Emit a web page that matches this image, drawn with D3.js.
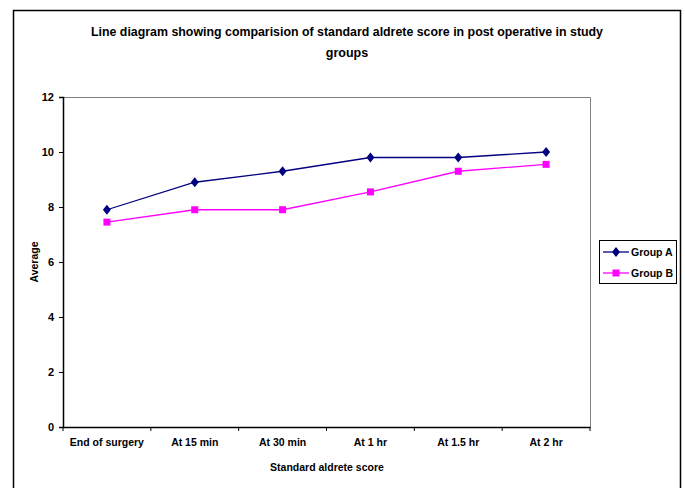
<!DOCTYPE html>
<html><head><meta charset="utf-8">
<script src="https://cdn.jsdelivr.net/npm/d3@7"></script>
<style>body{margin:0;background:#fff}svg{display:block}text{font-family:"Liberation Sans",Arial,sans-serif;font-weight:bold;fill:#000}</style>
</head><body>
<script>
const categories = ["End of surgery","At 15 min","At 30 min","At 1 hr","At 1.5 hr","At 2 hr"];
const groupA = [7.9, 8.9, 9.3, 9.8, 9.8, 10.0];
const groupB = [7.45, 7.9, 7.9, 8.55, 9.3, 9.55];
const yTicks = [0,2,4,6,8,10,12];
const seriesNames = ["Group A","Group B"];
const colors = ["#000080","#FF00FF"];

const W=685,H=488;
const svg=d3.select("body").append("svg").attr("width",W).attr("height",H);
svg.append("rect").attr("x",13.5).attr("y",10.5).attr("width",667).attr("height",500).attr("fill","none").attr("stroke","#000").attr("stroke-width",1.5);

const m={l:63,t:97,r:590,b:427};
const x=d3.scaleBand().domain(categories).range([m.l,m.r]);
const y=d3.scaleLinear().domain([0,12]).range([m.b,m.t]);

// title
const t1=svg.append("text").attr("x",347).attr("y",36).attr("text-anchor","middle").style("font-size","12.5px")
  .text("Line diagram showing comparision of standard aldrete score in post operative in study");
t1.attr("textLength",512).attr("lengthAdjust","spacingAndGlyphs");
svg.append("text").attr("x",347).attr("y",57).attr("text-anchor","middle").style("font-size","12.5px").text("groups");

// plot border gray top/right
svg.append("path").attr("d",`M${m.l},${m.t+0.5}H${m.r+0.5}V${m.b}`).attr("fill","none").attr("stroke","#808080").attr("stroke-width",1);

// y axis
const ya=svg.append("g").attr("transform",`translate(${m.l},0)`).call(d3.axisLeft(y).tickValues(yTicks).tickSize(4).tickPadding(5));
ya.select(".domain").attr("stroke","#000").attr("stroke-width",1.5);
ya.selectAll("text").style("font-size","11px").attr("font-family",null);
// x axis
const xa=svg.append("g").attr("transform",`translate(0,${m.b})`).call(d3.axisBottom(x).tickSize(0).tickPadding(12));
xa.select(".domain").attr("stroke","#000").attr("stroke-width",1.5);
xa.selectAll("text").style("font-size","10.5px").attr("font-family",null);
const bounds=categories.map(c=>x(c)).concat([m.r]);
svg.append("g").selectAll("line").data(bounds).join("line")
  .attr("x1",d=>d).attr("x2",d=>d).attr("y1",m.b).attr("y2",m.b+4).attr("stroke","#000");

svg.append("text").attr("x",327).attr("y",471).attr("text-anchor","middle").style("font-size","10.5px").text("Standard aldrete score");
svg.append("text").attr("transform","translate(38,262) rotate(-90)").attr("text-anchor","middle").style("font-size","10.5px").text("Average");

const cx=c=>x(c)+x.bandwidth()/2;
const line=d3.line().x((d,i)=>cx(categories[i])).y(d=>y(d));
const diamond="M0,-5L4,0L0,5L-4,0Z";
[groupA,groupB].forEach((s,k)=>{
  svg.append("path").datum(s).attr("d",line).attr("fill","none").attr("stroke",colors[k]).attr("stroke-width",1.3);
  const g=svg.append("g");
  s.forEach((v,i)=>{
    if(k===0) g.append("path").attr("d",diamond).attr("transform",`translate(${cx(categories[i])},${y(v)})`).attr("fill",colors[k]);
    else g.append("rect").attr("x",cx(categories[i])-3.5).attr("y",y(v)-3.5).attr("width",7).attr("height",7).attr("fill",colors[k]);
  });
});

// legend
const lg=svg.append("g");
lg.append("rect").attr("x",599.5).attr("y",240.5).attr("width",77).attr("height",43).attr("fill","#fff").attr("stroke","#000");
seriesNames.forEach((n,k)=>{
  const yy=252+k*21;
  lg.append("line").attr("x1",603).attr("x2",629).attr("y1",yy).attr("y2",yy).attr("stroke",colors[k]).attr("stroke-width",1.3);
  if(k===0) lg.append("path").attr("d",diamond).attr("transform",`translate(616,${yy})`).attr("fill",colors[k]);
  else lg.append("rect").attr("x",612.5).attr("y",yy-3.5).attr("width",7).attr("height",7).attr("fill",colors[k]);
  lg.append("text").attr("x",631).attr("y",yy+3.5).style("font-size","10.5px").text(n);
});
</script>
</body></html>
